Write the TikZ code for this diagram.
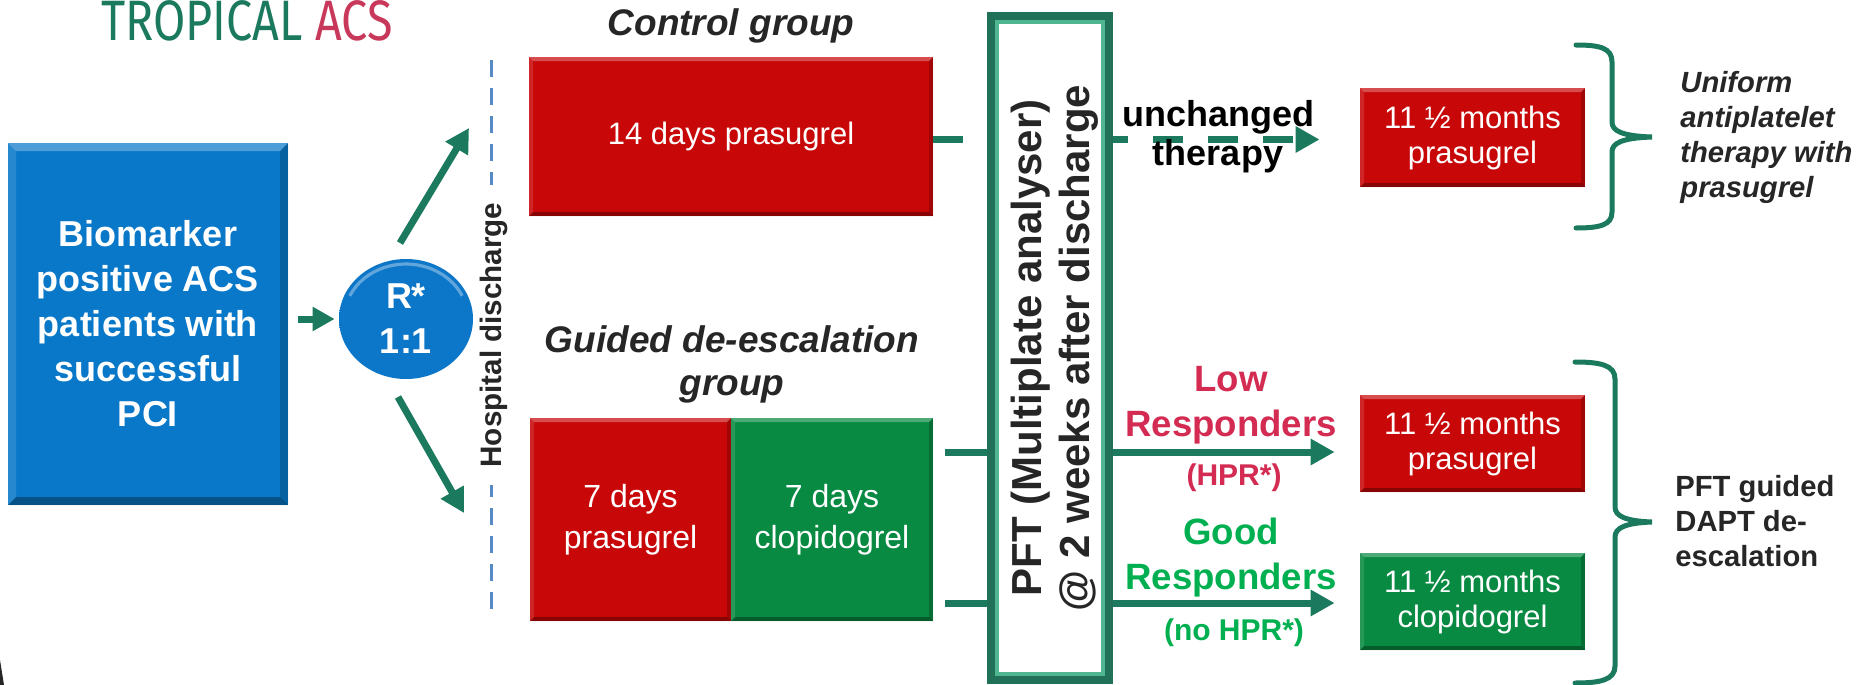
\documentclass[tikz,border=0pt]{standalone}
\usepackage{fontspec}
\setmainfont{Liberation Sans}
\newfontfamily\titlefont[FakeStretch=0.82]{Fira Sans}
\usetikzlibrary{arrows.meta,shapes.geometric}
\definecolor{teal1}{RGB}{27,122,94}
\definecolor{acsred}{RGB}{200,56,90}
\definecolor{boxblue}{RGB}{9,120,201}
\definecolor{orbblue}{RGB}{12,118,200}
\definecolor{orbdark}{RGB}{8,78,145}
\definecolor{boxred}{RGB}{200,8,8}
\definecolor{boxgreen}{RGB}{8,138,66}
\definecolor{hospblue}{RGB}{88,138,200}
\definecolor{pftdark}{RGB}{33,112,88}
\definecolor{pftlight}{RGB}{80,182,146}
\definecolor{lowred}{RGB}{212,43,82}
\definecolor{goodgreen}{RGB}{0,176,80}
\definecolor{textdark}{RGB}{38,38,38}
\pgfdeclareradialshading{orb}{\pgfpoint{0bp}{8bp}}{color(0bp)=(orbblue); color(36bp)=(orbblue); color(50bp)=(orbdark); color(70bp)=(orbdark)}
\tikzset{
  bevel/.style={path picture={
    \path (path picture bounding box.north west) coordinate (bvnw)
          (path picture bounding box.south east) coordinate (bvse);
    \fill[white,opacity=.28] (bvnw) -- (bvnw -| bvse) -- ([shift={(-#1,-#1)}]bvnw -| bvse) -- ([shift={(#1,-#1)}]bvnw) -- cycle;
    \fill[black,opacity=.32] (bvse) -- (bvse -| bvnw) -- ([shift={(#1,#1)}]bvse -| bvnw) -- ([shift={(-#1,#1)}]bvse) -- cycle;
    \fill[black,opacity=.2] (bvse) -- (bvnw -| bvse) -- ([shift={(-#1,-#1)}]bvnw -| bvse) -- ([shift={(-#1,#1)}]bvse) -- cycle;
    \fill[white,opacity=.12] (bvnw) -- (bvse -| bvnw) -- ([shift={(#1,#1)}]bvse -| bvnw) -- ([shift={(#1,-#1)}]bvnw) -- cycle;
  }},
  orbhl/.style={path picture={
    \draw[white,opacity=.35,line width=1.6pt] ([shift={(-28.1pt,11.6pt)}]path picture bounding box.center) arc[start angle=155, end angle=25, x radius=31pt, y radius=27.5pt];
  }},
  wbox/.style={inner sep=0pt, align=center, text=white},
  redbox/.style={wbox, fill=boxred, bevel=2pt},
  greenbox/.style={wbox, fill=boxgreen, bevel=2pt},
  boxtxt/.style={font=\fontsize{15.5}{17.5}\selectfont},
  sevtxt/.style={font=\fontsize{16}{20.5}\selectfont},
  flow/.style={draw=teal1, line width=3.5pt, -{Triangle[length=12pt,width=12.5pt]}},
  hospline/.style={draw=hospblue, line width=1.5pt, dash pattern=on 8.5pt off 5.5pt},
  brace/.style={draw=teal1, line width=2.5pt, line cap=round},
  pftbox/.style={draw=pftdark, line width=4pt, fill=white, minimum width=59pt, minimum height=332pt, inner sep=0pt,
    path picture={\draw[pftlight, line width=2pt] ([shift={(3pt,-3pt)}]path picture bounding box.north west) rectangle ([shift={(-3pt,3pt)}]path picture bounding box.south east);}},
  grouplab/.style={inner sep=0pt, align=center, text=textdark, font=\fontsize{18.5}{21.5}\selectfont\bfseries\itshape},
  resp/.style={inner sep=0pt, align=center, font=\fontsize{18.3}{22.5}\selectfont\bfseries},
  hpr/.style={inner sep=0pt, anchor=base, font=\fontsize{15}{17}\selectfont\bfseries},
  sidelab/.style={inner sep=0pt, anchor=west, align=left, text=textdark, font=\fontsize{14.6}{17.5}\selectfont\bfseries},
}
\begin{document}
\begin{tikzpicture}[x=0.5pt,y=-0.5pt]
\useasboundingbox (0,0) rectangle (1857,685);
\fill[white] (0,0) rectangle (1857,685);

% title
\node[anchor=base west, inner sep=0pt, text=teal1, font=\titlefont\fontsize{28.5}{30}\selectfont] (title) at (101,40) {TROPICAL \textcolor{acsred}{ACS}};

% patients box and randomisation
\node[wbox, fill=boxblue, bevel=4pt, minimum width=140pt, minimum height=181pt, font=\fontsize{18}{22.5}\selectfont\bfseries] (pat) at (148,324) {Biomarker\\positive ACS\\patients with\\successful\\PCI};
\node[ellipse, shading=orb, orbhl, minimum width=67pt, minimum height=60pt, inner sep=0pt, align=center, text=white, font=\fontsize{18}{22.5}\selectfont\bfseries] (rand) at (406,319) {R*\\1:1};
\draw[flow, -{Triangle[length=11pt,width=11.5pt]}] ([xshift=5pt]pat.east |- rand.west) -- ([xshift=-2pt]rand.west);

\coordinate (up0) at (400,243); \coordinate (up1) at (469,128);
\coordinate (dn0) at (398,397); \coordinate (dn1) at (464,513);
\draw[flow] (up0) -- (up1);
\draw[flow] (dn0) -- (dn1);

% hospital discharge
\coordinate (h0) at (491,60); \coordinate (h1) at (491,612);
\draw[hospline] (h0) -- (h1);
\node[rotate=90, fill=white, inner xsep=9pt, inner ysep=1pt, text=textdark, font=\fontsize{14.8}{17}\selectfont\bfseries] (hospt) at (494,335) {Hospital discharge};

% groups
\node[grouplab, anchor=base] (ctrllab) at (731,35) {Control group};
\node[grouplab] (guidlab) at (732,364) {Guided de-escalation\\group};
\node[redbox, boxtxt, minimum width=202pt, minimum height=79.5pt] (ctrl) at (731,136.5) {14 days prasugrel};
\node[redbox, sevtxt, minimum width=100.5pt, minimum height=101.5pt] (g7p) at (630.5,519.5) {7 days\\prasugrel};
\node[greenbox, sevtxt, minimum width=101pt, minimum height=101.5pt] (g7c) at (832,519.5) {7 days\\clopidogrel};

% 11.5 month boxes
\node[redbox, boxtxt, minimum width=112.5pt, minimum height=49.5pt] (r1) at (1472.5,137.5) {11 ½ months\\prasugrel};
\node[redbox, boxtxt, minimum width=112.5pt, minimum height=48.5pt] (r2) at (1472.5,443.5) {11 ½ months\\prasugrel};
\node[greenbox, boxtxt, minimum width=112.5pt, minimum height=48.5pt] (g2) at (1472.5,601.5) {11 ½ months\\clopidogrel};

% connectors through PFT
\path ([yshift=-1.5pt]ctrl.east) coordinate (c0);
\path (c0 -| r1.west) coordinate (r1in);
\coordinate (lo0) at (945,452); \coordinate (gd0) at (945,603);
\path (lo0 -| r2.west) coordinate (lo1);
\path (gd0 -| g2.west) coordinate (gd1);
\draw[flow, dash pattern=on 15pt off 12.5pt] (c0) -- ([xshift=-20pt]r1in);
\draw[flow] (lo0) -- ([xshift=-12.5pt]lo1);
\draw[flow] (gd0) -- ([xshift=-12.5pt]gd1);

% PFT
\node[pftbox] (pft) at (1050,348) {};
\node[rotate=90, align=center, inner sep=0pt, text=textdark, font=\fontsize{21}{24}\selectfont\bfseries] (pfttxt) at (1055,348) {PFT (Multiplate analyser)\\@ 2 weeks after discharge};

% arrow labels
\node[inner sep=0pt, align=center, text=black, font=\fontsize{18}{19.5}\selectfont\bfseries] (unch) at (1218,137) {unchanged\\therapy};
\node[resp, text=lowred] (lowlab) at (1231,405) {Low\\Responders};
\node[hpr, text=lowred] (hprlab) at (1234,485) {(HPR*)};
\node[resp, text=goodgreen] (goodlab) at (1231,558) {Good\\Responders};
\node[hpr, text=goodgreen] (nohprlab) at (1234,640) {(no HPR*)};

% braces
\draw[brace] (1576,45) .. controls (1600,45) and (1612,48) .. (1612,62) -- (1612,122) .. controls (1612,131) and (1622,136) .. (1652,137) .. controls (1622,138) and (1612,143) .. (1612,152) -- (1612,212) .. controls (1612,225) and (1600,228) .. (1576,228);
\draw[brace] (1575,362) .. controls (1600,362) and (1615,365) .. (1615,379) -- (1615,507) .. controls (1615,516) and (1625,521) .. (1652,522) .. controls (1625,523) and (1615,528) .. (1615,537) -- (1615,666) .. controls (1615,680) and (1600,683) .. (1575,683);

% side labels
\node[sidelab, font=\fontsize{14.6}{17.5}\selectfont\bfseries\itshape] (unif) at (1680,137.5) {Uniform\\antiplatelet\\therapy with\\prasugrel};
\node[sidelab] (pftg) at (1675,521.5) {PFT guided\\DAPT de-\\escalation};

% corner fragment
\fill[textdark] (0,660) -- (4,685) -- (0,685) -- cycle;
\end{tikzpicture}
\end{document}
